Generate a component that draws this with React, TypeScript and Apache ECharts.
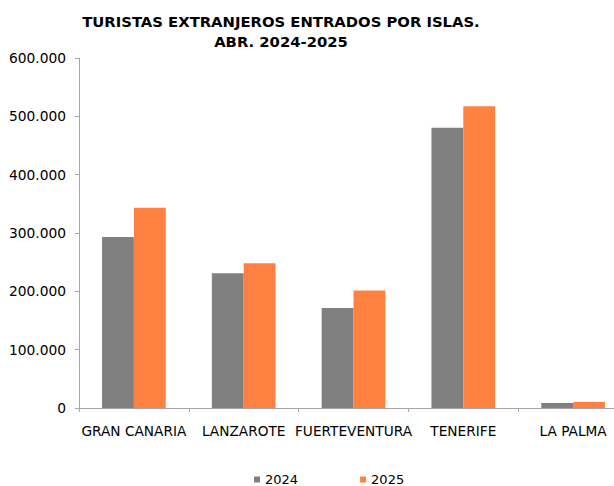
import React, { useEffect, useRef } from "react";
import * as echarts from "echarts";

const categories = ["GRAN CANARIA", "LANZAROTE", "FUERTEVENTURA", "TENERIFE", "LA PALMA"];
const values2024 = [293000, 231000, 171500, 480500, 8500];
const values2025 = [343500, 248000, 201500, 517500, 10500];
const seriesNames = ["2024", "2025"];
const titleLines = ["TURISTAS EXTRANJEROS ENTRADOS POR ISLAS.", "ABR. 2024-2025"];

const fmt = (v: number) => String(v).replace(/\B(?=(\d{3})+(?!\d))/g, ".");

export default function App() {
  const ref = useRef<HTMLDivElement>(null);
  useEffect(() => {
    document.body.style.margin = "0";
    const chart = echarts.init(ref.current!, null, { renderer: "svg" });
    const font = "DejaVu Sans";
    chart.setOption({
      animation: false,
      backgroundColor: "#ffffff",
      title: {
        text: titleLines.join("\n"),
        left: 276,
        textAlign: "center",
        top: 6,
        textStyle: { fontFamily: font, fontSize: 14.8, fontWeight: "bold", color: "#000", lineHeight: 20 },
      },
      legend: {
        data: seriesNames,
        top: 473,
        left: 254,
        padding: 0,
        itemWidth: 6,
        itemHeight: 6,
        itemGap: 62,
        icon: "rect",
        textStyle: { fontFamily: font, fontSize: 13, color: "#000" },
      },
      grid: { left: 79, top: 58, bottom: 78, right: 0 },
      xAxis: {
        type: "category",
        data: categories,
        axisLine: { lineStyle: { color: "#a6a6a6", width: 1 } },
        axisTick: { show: true, length: 4, lineStyle: { color: "#a6a6a6" } },
        axisLabel: { fontFamily: font, fontSize: 13.7, color: "#000", margin: 16, interval: 0 },
      },
      yAxis: {
        type: "value",
        min: 0,
        max: 600000,
        interval: 100000,
        axisLine: { show: true, lineStyle: { color: "#a6a6a6", width: 1 } },
        axisTick: { show: true, length: 4, lineStyle: { color: "#a6a6a6" } },
        splitLine: { show: false },
        axisLabel: { fontFamily: font, fontSize: 13.8, color: "#000", margin: 13, formatter: (v: number) => fmt(v) },
      },
      series: [
        {
          name: seriesNames[0],
          type: "bar",
          data: values2024,
          itemStyle: { color: "#808080" },
          barGap: "0%",
          barCategoryGap: "42%",
        },
        {
          name: seriesNames[1],
          type: "bar",
          data: values2025,
          itemStyle: { color: "#ff8141" },
          barGap: "0%",
          barCategoryGap: "42%",
        },
      ],
    });
    return () => chart.dispose();
  }, []);
  return (
    <div style={{ width: 614, height: 486, overflow: "hidden", position: "relative" }}>
      <div ref={ref} style={{ width: 628, height: 486 }} />
    </div>
  );
}
